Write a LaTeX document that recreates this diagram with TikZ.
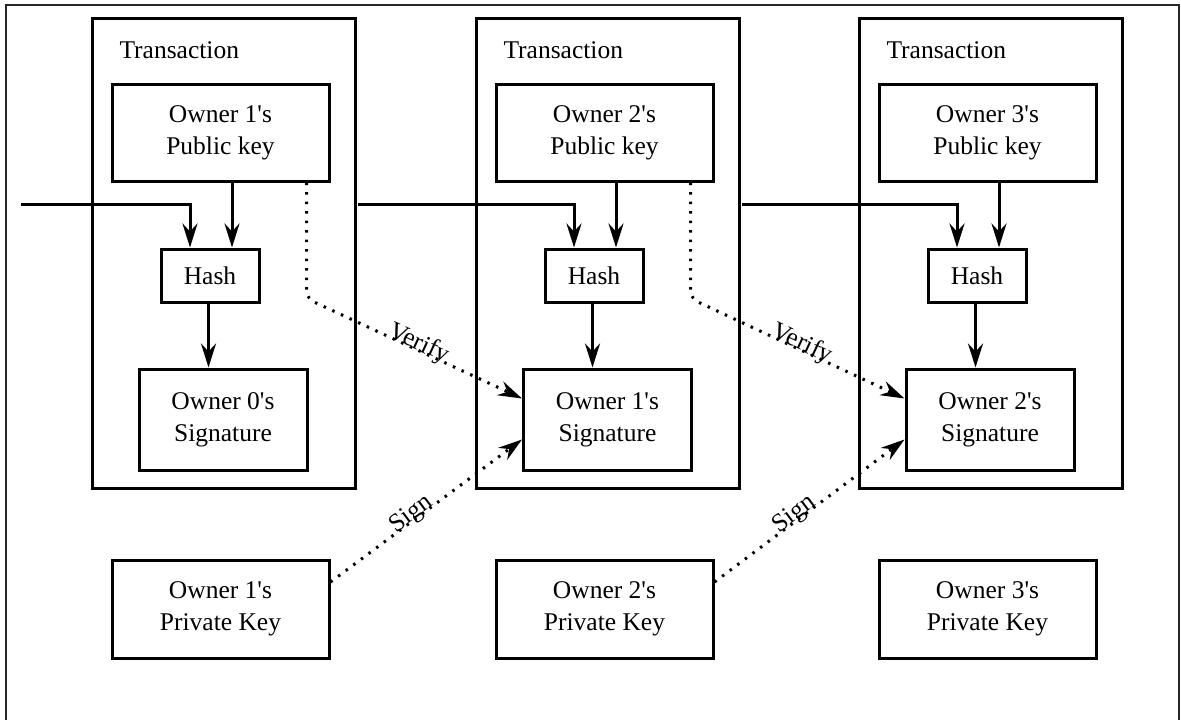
\documentclass[tikz,border=0pt]{standalone}
\usepackage{fontspec}
\setmainfont{Liberation Serif}
\usetikzlibrary{arrows.meta}
\newcommand{\ap}{\textquotesingle}
\begin{document}
\begin{tikzpicture}[x=1pt,y=-1pt,
  txt/.style={font=\fontsize{25.5}{32}\selectfont},
  box/.style={draw, line width=3pt, inner sep=0pt, align=center, txt},
  tbox/.style={draw, line width=3pt, minimum width=263pt, minimum height=470pt, inner sep=0pt},
  pkbox/.style={box, minimum width=217pt, minimum height=97pt},
  hbox/.style={box, minimum width=98pt, minimum height=53pt},
  sbox/.style={box, minimum width=168pt, minimum height=101pt},
  kbox/.style={box, minimum width=217pt, minimum height=98pt},
  tip/.style={-{Stealth[length=24pt,width=15pt,inset=8pt]}},
  conn/.style={line width=3pt, tip},
  dotconn/.style={line width=3pt, dash pattern=on 2.5pt off 7pt, tip},
  lbl/.style={txt, sloped, anchor=base, inner sep=0pt}
]
\useasboundingbox (0,0) rectangle (1181,720);
% outer frame
\draw[line width=2pt, black!85] (6,725) -- (6,5) -- (1179,5) -- (1179,725);

\foreach \i/\dx in {1/0,2/384,3/767}{
  \node[tbox] (T\i) at (223.5+\dx,253) {};
  \node[txt, anchor=west] (TL\i) at (116+\dx,50) {Transaction};
  \node[pkbox] (P\i) at (220.5+\dx,132.5) {Owner \i\ap s\\Public key};
  \node[hbox] (H\i) at (210+\dx,275.5) {Hash};
  \node[kbox] (K\i) at (220.5+\dx,609) {Owner \i\ap s\\Private Key};
}
\node[sbox] (S1) at (223,419.5) {Owner 0\ap s\\Signature};
\node[sbox] (S2) at (607.5,419.5) {Owner 1\ap s\\Signature};
\node[sbox] (S3) at (990,419.5) {Owner 2\ap s\\Signature};

% chain input
\coordinate (in) at (21,204.5);
\draw[conn] (in) -| ([xshift=-20pt]H1.north);
\draw[conn] ([xshift=1.5pt]T1.east |- in) -| ([xshift=-20pt]H2.north);
\draw[conn] ([xshift=1.5pt]T2.east |- in) -| ([xshift=-20pt]H3.north);

\foreach \i in {1,2,3}{
  \draw[conn] ([xshift=22pt]H\i.north |- P\i.south) -- ([xshift=22pt]H\i.north);
  \draw[conn] ([xshift=-1.5pt]H\i.south) -- ([xshift=-1.5pt]H\i.south |- S\i.north);
}

% verify / sign
\draw[dotconn, rounded corners=8pt] ([xshift=-24pt]P1.south east) -- ([xshift=-24pt,yshift=-116pt]P1.south east)
  -- node[lbl, pos=0.51] {Verify} ([yshift=21pt]S2.west);
\draw[dotconn, rounded corners=8pt] ([xshift=-24pt]P2.south east) -- ([xshift=-24pt,yshift=-116pt]P2.south east)
  -- node[lbl, pos=0.51] {Verify} ([yshift=21pt]S3.west);
\draw[dotconn] ([yshift=27pt]K1.east) -- node[lbl, pos=0.44] {Sign} ([yshift=-20pt]S2.west);
\draw[dotconn] ([yshift=27pt]K2.east) -- node[lbl, pos=0.44] {Sign} ([yshift=-20pt]S3.west);
\end{tikzpicture}
\end{document}
